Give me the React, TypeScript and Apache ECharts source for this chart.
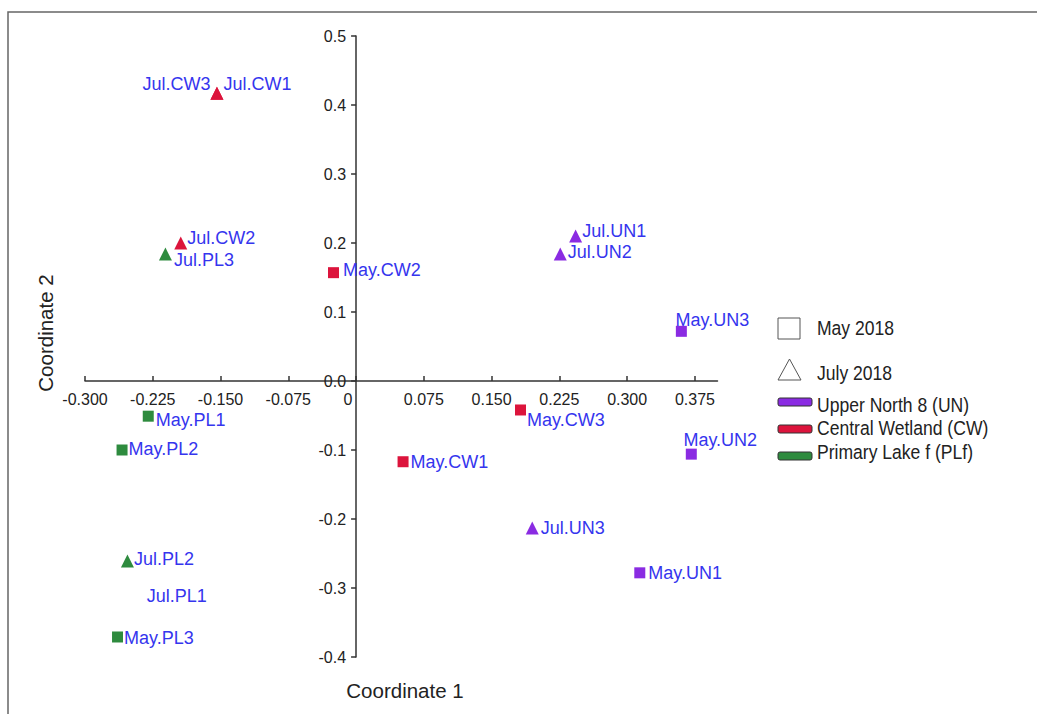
import React, { useEffect, useRef } from "react";
import * as echarts from "echarts";

// ---- data ----
const xTicks = [-0.3, -0.225, -0.15, -0.075, 0, 0.075, 0.15, 0.225, 0.3, 0.375];
const yTicks = [-0.4, -0.3, -0.2, -0.1, 0, 0.1, 0.2, 0.3, 0.4, 0.5];
const X_MIN = -0.3;
const X_MAX = 0.4;
const Y_MIN = -0.4;
const Y_MAX = 0.5;

const mayUN: [string, number, number][] = [
  ["May.UN1", 0.314, -0.278],
  ["May.UN2", 0.371, -0.106],
  ["May.UN3", 0.36, 0.072],
];
const julUN: [string, number, number][] = [
  ["Jul.UN1", 0.243, 0.21],
  ["Jul.UN2", 0.226, 0.184],
  ["Jul.UN3", 0.195, -0.213],
];
const mayCW: [string, number, number][] = [
  ["May.CW1", 0.052, -0.117],
  ["May.CW2", -0.025, 0.157],
  ["May.CW3", 0.182, -0.042],
];
const julCW: [string, number, number][] = [
  ["Jul.CW1", -0.154, 0.417],
  ["Jul.CW2", -0.194, 0.2],
  ["Jul.CW3", -0.154, 0.417],
];
const mayPL: [string, number, number][] = [
  ["May.PL1", -0.23, -0.051],
  ["May.PL2", -0.259, -0.1],
  ["May.PL3", -0.264, -0.371],
];
const julPL: [string, number, number][] = [
  ["Jul.PL1", -0.24, -0.312],
  ["Jul.PL2", -0.253, -0.261],
  ["Jul.PL3", -0.211, 0.184],
];

const legendItems = ["May 2018", "July 2018", "Upper North 8 (UN)", "Central Wetland (CW)", "Primary Lake f (PLf)"];

// ---- styles / layout ----
const COLORS = { UN: "#8a2be2", CW: "#dc143c", PL: "#2e8b3e" };
const LABEL_COLOR = "#3535ee";
const FONT = "'Liberation Sans', Arial, sans-serif";
const GRID = { left: 85, right: 717.5, top: 36, bottom: 657 };

const labelPlace: Record<string, any> = {
  "Jul.CW1": { position: "right", offset: [0, -9], distance: 0 },
  "Jul.CW3": { position: "left", offset: [0, -9], distance: 0 },
  "Jul.CW2": { position: "right", offset: [0, -5], distance: 0 },
  "Jul.PL3": { position: "right", offset: [0, 6], distance: 2 },
  "Jul.UN1": { position: "right", offset: [0, -5], distance: 0 },
  "Jul.UN2": { position: "right", offset: [0, -2], distance: 1 },
  "Jul.UN3": { position: "right", offset: [0, 0], distance: 2 },
  "Jul.PL2": { position: "right", offset: [0, -2], distance: 0 },
  "Jul.PL1": { position: "right", offset: [0, 0], distance: 1 },
  "May.CW2": { position: "right", offset: [0, -3], distance: 4 },
  "May.CW3": { position: "right", offset: [0, 10], distance: 1 },
  "May.CW1": { position: "right", offset: [0, 0], distance: 2 },
  "May.PL1": { position: "right", offset: [0, 4], distance: 2 },
  "May.PL2": { position: "right", offset: [0, -1], distance: 1 },
  "May.PL3": { position: "right", offset: [0, 1], distance: 1 },
  "May.UN1": { position: "right", offset: [0, 0], distance: 3 },
  "May.UN3": { position: "top", offset: [31, 3], distance: 0 },
  "May.UN2": { position: "top", offset: [29, 0], distance: 0 },
};
const hiddenMarkers = ["Jul.PL1"];

function makeSeries(pts: [string, number, number][], color: string, symbol: string, size: number) {
  return {
    type: "scatter",
    symbol,
    symbolSize: size,
    itemStyle: { color, opacity: 1 },
    label: {
      show: true,
      formatter: "{b}",
      color: LABEL_COLOR,
      opacity: 1,
      fontSize: 18,
      fontFamily: FONT,
    },
    data: pts.map(([name, x, y]) => ({
      name,
      value: [x, y],
      label: labelPlace[name] || { position: "right" },
      itemStyle: hiddenMarkers.includes(name) ? { opacity: 0 } : undefined,
    })),
  };
}

export default function App() {
  const ref = useRef<HTMLDivElement>(null);
  useEffect(() => {
    if (!ref.current) return;
    const chart = echarts.init(ref.current, null, { renderer: "svg" });
    const axisTextStyle = { color: "#222", fontSize: 16, fontFamily: FONT };
    const lgX = 778;
    const lgText = { fontSize: 19.5, fontFamily: FONT, fill: "#222", verticalAlign: "middle" };
    const lgScale = 0.9;
    // move the axes (with their labels) onto the zero lines
    const plotW = GRID.right - GRID.left;
    const plotH = GRID.bottom - GRID.top;
    const zeroFromLeft = ((0 - X_MIN) / (X_MAX - X_MIN)) * plotW;
    const zeroFromBottom = ((0 - Y_MIN) / (Y_MAX - Y_MIN)) * plotH;
    chart.setOption({
      animation: false,
      backgroundColor: "#fff",
      grid: { left: GRID.left, right: 1037 - GRID.right, top: GRID.top, bottom: 714 - GRID.bottom, containLabel: false },
      xAxis: {
        type: "value",
        position: "bottom",
        offset: -zeroFromBottom,
        min: X_MIN,
        max: X_MAX,
        splitLine: { show: false },
        axisLine: { onZero: false, lineStyle: { color: "#333", width: 1.5 } },
        axisTick: { show: true, inside: true, length: 5, customValues: xTicks, lineStyle: { color: "#333", width: 1.5 } },
        axisLabel: {
          ...axisTextStyle,
          margin: 10,
          customValues: xTicks,
          formatter: (v: number) => (Math.abs(v) < 1e-9 ? "{z|0}" : v.toFixed(3)),
          rich: { z: { ...axisTextStyle, padding: [0, 16, 0, 0] } },
        },
      },
      yAxis: {
        type: "value",
        position: "left",
        offset: -zeroFromLeft,
        min: Y_MIN,
        max: Y_MAX,
        splitLine: { show: false },
        axisLine: { onZero: false, lineStyle: { color: "#333", width: 1.5 } },
        axisTick: { show: true, inside: false, length: 5, customValues: yTicks, lineStyle: { color: "#333", width: 1.5 } },
        axisLabel: {
          ...axisTextStyle,
          margin: 10,
          customValues: yTicks,
          formatter: (v: number) => v.toFixed(1),
        },
      },
      graphic: [
        {
          type: "rect",
          z: -10,
          silent: true,
          shape: { x: 8, y: 12, width: 1200, height: 900 },
          style: { fill: "none", stroke: "#666", lineWidth: 1.5 },
        },
        {
          type: "text",
          x: 405,
          y: 690,
          style: { text: "Coordinate 1", fontSize: 20.5, fontFamily: FONT, fill: "#222", align: "center", verticalAlign: "middle" },
        },
        {
          type: "text",
          x: 45,
          y: 333,
          rotation: Math.PI / 2,
          style: { text: "Coordinate 2", fontSize: 20.5, fontFamily: FONT, fill: "#222", align: "center", verticalAlign: "middle" },
        },
        // legend
        { type: "rect", shape: { x: lgX, y: 318, width: 22, height: 21 }, style: { fill: "#fff", stroke: "#555", lineWidth: 1 } },
        { type: "text", x: 817, y: 328, scaleX: lgScale, style: { ...lgText, text: legendItems[0] } },
        {
          type: "polygon",
          shape: { points: [[lgX + 11.5, 359], [lgX + 23, 380], [lgX, 380]] },
          style: { fill: "#fff", stroke: "#555", lineWidth: 1 },
        },
        { type: "text", x: 817, y: 373, scaleX: lgScale, style: { ...lgText, text: legendItems[1] } },
        { type: "rect", shape: { x: lgX, y: 398, width: 34, height: 8, r: 2 }, style: { fill: COLORS.UN, stroke: "#333", lineWidth: 1 } },
        { type: "text", x: 817, y: 405, scaleX: lgScale, style: { ...lgText, text: legendItems[2] } },
        { type: "rect", shape: { x: lgX, y: 425, width: 34, height: 8, r: 2 }, style: { fill: COLORS.CW, stroke: "#333", lineWidth: 1 } },
        { type: "text", x: 817, y: 428, scaleX: lgScale, style: { ...lgText, text: legendItems[3] } },
        { type: "rect", shape: { x: lgX, y: 452, width: 34, height: 8, r: 2 }, style: { fill: COLORS.PL, stroke: "#333", lineWidth: 1 } },
        { type: "text", x: 817, y: 452, scaleX: lgScale, style: { ...lgText, text: legendItems[4] } },
      ],
      series: [
        makeSeries(mayUN, COLORS.UN, "rect", 11),
        makeSeries(julUN, COLORS.UN, "triangle", 13),
        makeSeries(mayCW, COLORS.CW, "rect", 11),
        makeSeries(julCW, COLORS.CW, "triangle", 13),
        makeSeries(mayPL, COLORS.PL, "rect", 11),
        makeSeries(julPL, COLORS.PL, "triangle", 13),
      ],
    });
    return () => chart.dispose();
  }, []);
  return <div ref={ref} style={{ position: "fixed", left: 0, top: 0, width: 1037, height: 714 }} />;
}
